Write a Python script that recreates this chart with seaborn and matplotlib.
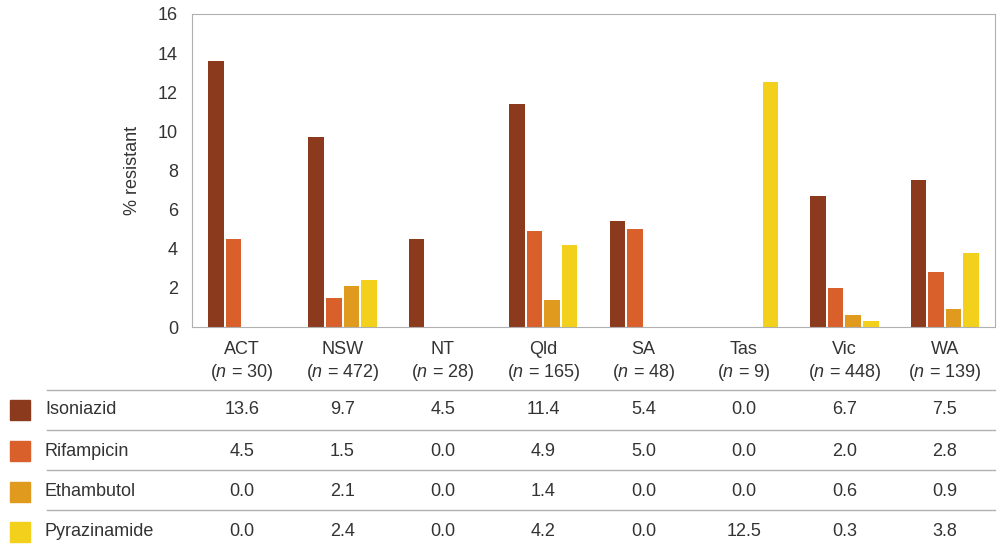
import matplotlib.pyplot as plt
import matplotlib.transforms as mtransforms
import pandas as pd
import seaborn as sns

STATES = ["ACT", "NSW", "NT", "Qld", "SA", "Tas", "Vic", "WA"]
COUNTS = [30, 472, 28, 165, 48, 9, 448, 139]
DRUGS = ["Isoniazid", "Rifampicin", "Ethambutol", "Pyrazinamide"]
ISONIAZID = [13.6, 9.7, 4.5, 11.4, 5.4, 0.0, 6.7, 7.5]
RIFAMPICIN = [4.5, 1.5, 0.0, 4.9, 5.0, 0.0, 2.0, 2.8]
ETHAMBUTOL = [0.0, 2.1, 0.0, 1.4, 0.0, 0.0, 0.6, 0.9]
PYRAZINAMIDE = [0.0, 2.4, 0.0, 4.2, 0.0, 12.5, 0.3, 3.8]
COLORS = ["#8B3A1E", "#D95F2B", "#E09A1E", "#F2D01B"]

plt.rcParams["font.family"] = "Liberation Sans"
plt.rcParams["mathtext.fontset"] = "custom"
plt.rcParams["mathtext.it"] = "Liberation Sans:italic"
plt.rcParams["mathtext.rm"] = "Liberation Sans"
TEXT = "#333333"

series = [ISONIAZID, RIFAMPICIN, ETHAMBUTOL, PYRAZINAMIDE]
rows = []
for drug, values in zip(DRUGS, series):
    for state, value in zip(STATES, values):
        rows.append({"state": state, "drug": drug, "pct": value})
df = pd.DataFrame(rows)

fig = plt.figure(figsize=(10.04, 5.51), dpi=100)
ax = fig.add_axes([192 / 1004, 1 - 327 / 551, (995 - 192) / 1004, (327 - 14) / 551])
sns.barplot(data=df, x="state", y="pct", hue="drug", palette=COLORS,
            saturation=1, width=0.7, gap=0.12, legend=False, ax=ax)

ax.set_ylim(0, 16)
ax.set_yticks(range(0, 17, 2))
ax.set_xlim(-0.5, len(STATES) - 0.5)
ax.set_ylabel("% resistant", fontsize=13, color=TEXT, labelpad=12)
ax.set_xlabel("")
labels = [f"{s}\n($\\it{{n}}$ = {n})" for s, n in zip(STATES, COUNTS)]
ax.set_xticks(range(len(STATES)))
ax.set_xticklabels(labels, fontsize=13, color=TEXT, linespacing=1.3)
ax.tick_params(axis="y", labelsize=13, colors=TEXT, length=0, pad=10)
ax.tick_params(axis="x", length=0, pad=10)
for spine in ax.spines.values():
    spine.set_color("#b0b0b0")
ax.grid(False)

trans = mtransforms.blended_transform_factory(ax.transData, fig.transFigure)
row_y = [410, 451, 492, 532]
line_y = [390, 430, 470, 510]
for y in line_y:
    fig.add_artist(plt.Line2D([47 / 1004, 995 / 1004], [1 - y / 551] * 2,
                              color="#b0b0b0", lw=1))
for drug, values, color, y in zip(DRUGS, series, COLORS, row_y):
    fy = 1 - y / 551
    fig.add_artist(plt.Rectangle((10 / 1004, fy - 10 / 551), 20 / 1004, 20 / 551,
                                 color=color, transform=fig.transFigure))
    fig.text(45 / 1004, fy, drug, fontsize=13, color=TEXT, va="center")
    for i, v in enumerate(values):
        ax.text(i, fy, f"{v:.1f}", transform=trans, fontsize=13, color=TEXT,
                ha="center", va="center")

fig.savefig("out.png", dpi=100)
